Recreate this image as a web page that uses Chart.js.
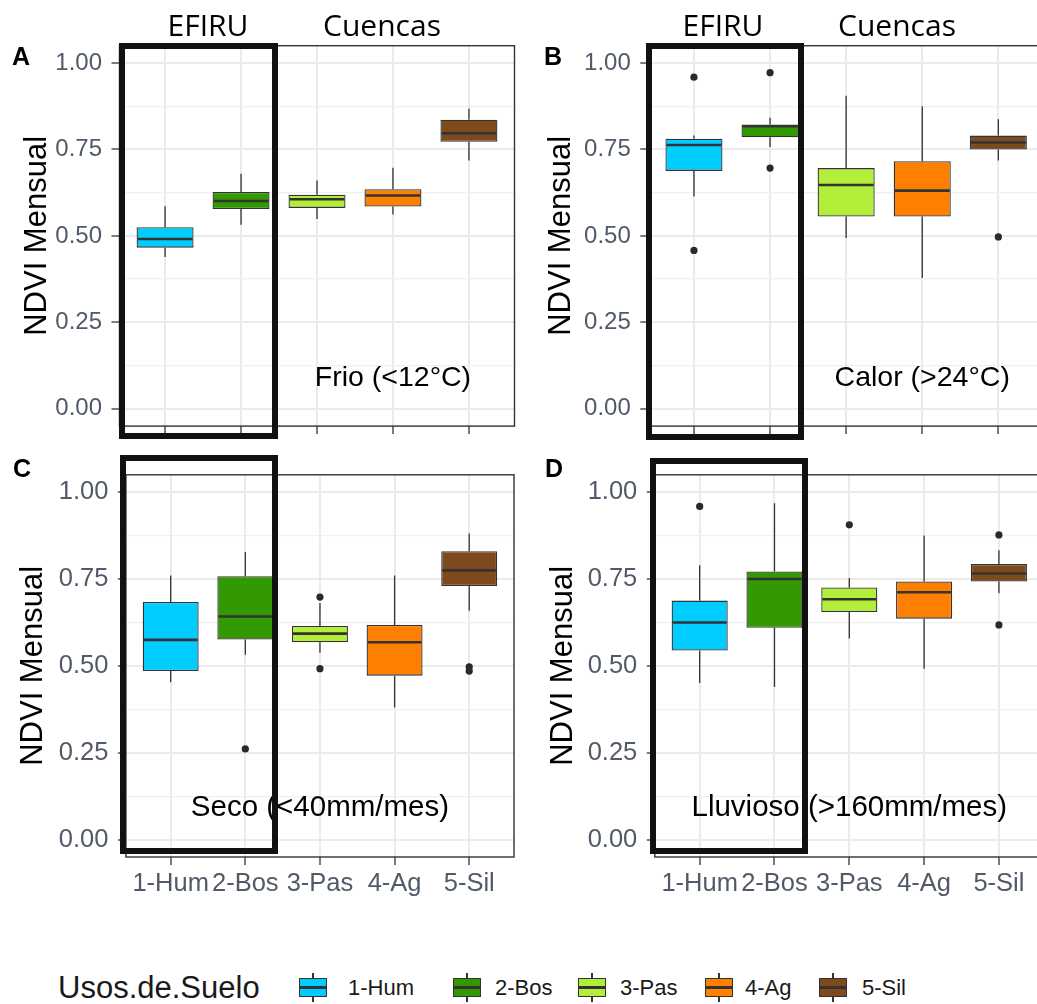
<!DOCTYPE html>
<html>
<head>
<meta charset="utf-8">
<script src="https://cdn.jsdelivr.net/npm/chart.js@4.4.1/dist/chart.umd.min.js"></script>
<style>
html, body { margin: 0; padding: 0; width: 1037px; height: 1004px; overflow: hidden; background: #fff; }
canvas { position: absolute; }
.txt { position: absolute; line-height: 1; white-space: nowrap; transform: translate(-50%, -50%); }
.head { font-family: 'Open Sans', sans-serif; font-size: 30px; color: #000; }
.letter { font-family: 'Liberation Sans', Arial, sans-serif; font-size: 25px; font-weight: bold; color: #000; }
.efiru { position: absolute; border: 6px solid #111; box-sizing: border-box; }
.leg { position: absolute; line-height: 1; white-space: nowrap; transform: translateY(-50%);
       font-family: 'Liberation Sans', Arial, sans-serif; color: #1a1a1a; }
.key { position: absolute; width: 28px; height: 29px; }
.key div { position: absolute; box-sizing: border-box; }
</style>
</head>
<body>
<canvas id="panelA" width="518" height="450" style="left:0px;top:0px"></canvas>
<canvas id="panelB" width="530" height="450" style="left:518px;top:0px"></canvas>
<canvas id="panelC" width="518" height="470" style="left:0px;top:450px"></canvas>
<canvas id="panelD" width="530" height="470" style="left:518px;top:450px"></canvas>

<div class="efiru" style="left:119px;top:43px;width:159px;height:396px"></div>
<div class="efiru" style="left:646px;top:43px;width:158px;height:397px"></div>
<div class="efiru" style="left:120px;top:455px;width:158px;height:399px"></div>
<div class="efiru" style="left:650px;top:458px;width:158px;height:396px"></div>

<div class="txt head" style="left:208px;top:25px">EFIRU</div>
<div class="txt head" style="left:382px;top:25px">Cuencas</div>
<div class="txt head" style="left:723px;top:25px">EFIRU</div>
<div class="txt head" style="left:897px;top:25px">Cuencas</div>

<div class="txt letter" style="left:21px;top:56px">A</div>
<div class="txt letter" style="left:553px;top:56px">B</div>
<div class="txt letter" style="left:22px;top:468px">C</div>
<div class="txt letter" style="left:554px;top:468px">D</div>

<div id="legend"></div>

<script>
const categories = ['1-Hum', '2-Bos', '3-Pas', '4-Ag', '5-Sil'];
const boxColors = ['#00CCFF', '#339900', '#B3EE3A', '#FF8000', '#7F4A1B'];
const yMajorTicks = [0, 0.25, 0.5, 0.75, 1];
const yMinorTicks = [0.125, 0.375, 0.625, 0.875];

// A - Frio (<12°C)
const frioLow  = [0.439, 0.532, 0.549, 0.562, 0.718];
const frioQ1   = [0.466, 0.578, 0.581, 0.585, 0.772];
const frioMed  = [0.491, 0.601, 0.606, 0.617, 0.797];
const frioQ3   = [0.525, 0.627, 0.619, 0.635, 0.836];
const frioHigh = [0.586, 0.680, 0.660, 0.697, 0.868];
const frioOut  = [];

// B - Calor (>24°C)
const calorLow  = [0.614, 0.757, 0.494, 0.378, 0.718];
const calorQ1   = [0.688, 0.785, 0.556, 0.556, 0.750];
const calorMed  = [0.763, 0.817, 0.647, 0.631, 0.770];
const calorQ3   = [0.781, 0.822, 0.696, 0.716, 0.790];
const calorHigh = [0.790, 0.842, 0.905, 0.875, 0.837];
const calorOut  = [[1, 0.959], [1, 0.458], [2, 0.972], [2, 0.696], [5, 0.497]];

// C - Seco (<40mm/mes)
const secoLow  = [0.453, 0.532, 0.538, 0.380, 0.659];
const secoQ1   = [0.485, 0.576, 0.568, 0.472, 0.730];
const secoMed  = [0.575, 0.642, 0.593, 0.568, 0.775];
const secoQ3   = [0.684, 0.758, 0.615, 0.618, 0.830];
const secoHigh = [0.760, 0.828, 0.681, 0.760, 0.881];
const secoOut  = [[2, 0.261], [3, 0.698], [3, 0.492], [5, 0.497], [5, 0.485]];

// D - Lluvioso (>160mm/mes)
const lluvLow  = [0.451, 0.439, 0.579, 0.492, 0.709];
const lluvQ1   = [0.544, 0.610, 0.655, 0.636, 0.743];
const lluvMed  = [0.625, 0.750, 0.692, 0.712, 0.766];
const lluvQ3   = [0.688, 0.772, 0.726, 0.743, 0.793];
const lluvHigh = [0.790, 0.968, 0.753, 0.875, 0.833];
const lluvOut  = [[1, 0.959], [3, 0.906], [5, 0.877], [5, 0.618]];

const FONT = "'Liberation Sans', Arial, sans-serif";
const TICK_COLOR = '#515a68';
const isMajor = v => yMajorTicks.some(m => Math.abs(m - v) < 1e-6);

// whiskers, medians, note text and panel border
const boxPlugin = {
    id: 'boxplot',
    afterDatasetsDraw(chart, args, opts) {
        const { ctx, scales: { x, y } } = chart;
        const bars = chart.getDatasetMeta(0).data;
        const s = opts.stats;
        ctx.save();
        ctx.strokeStyle = '#333333';
        categories.forEach((c, i) => {
            const px = x.getPixelForValue(i + 1);
            const half = bars[i].width / 2;
            ctx.lineWidth = 1.3;
            ctx.beginPath();
            ctx.moveTo(px, y.getPixelForValue(s.high[i]));
            ctx.lineTo(px, y.getPixelForValue(s.q3[i]));
            ctx.moveTo(px, y.getPixelForValue(s.q1[i]));
            ctx.lineTo(px, y.getPixelForValue(s.low[i]));
            ctx.stroke();
            ctx.lineWidth = 2.6;
            ctx.beginPath();
            const my = y.getPixelForValue(s.med[i]);
            ctx.moveTo(px - half + 1, my);
            ctx.lineTo(px + half - 1, my);
            ctx.stroke();
        });
        ctx.fillStyle = '#000';
        ctx.font = opts.noteSize + 'px ' + FONT;
        ctx.textAlign = 'center';
        ctx.textBaseline = 'middle';
        ctx.fillText(opts.note, x.getPixelForValue(opts.noteX), y.getPixelForValue(opts.noteY));
        ctx.restore();
    },
    afterDraw(chart) {
        const { ctx, chartArea: a } = chart;
        ctx.save();
        ctx.strokeStyle = '#333333';
        ctx.lineWidth = 1.4;
        ctx.strokeRect(a.left, a.top, a.right - a.left, a.bottom - a.top);
        ctx.restore();
    }
};

function makePanel(id, s, L) {
    const boxData = categories.map((c, i) => ({ x: i + 1, y: [s.q1[i], s.q3[i]] }));
    const outData = s.out.map(p => ({ x: p[0], y: p[1] }));
    return new Chart(document.getElementById(id), {
        type: 'bar',
        data: {
            datasets: [{
                type: 'bar',
                data: boxData,
                backgroundColor: boxColors,
                borderColor: '#333333',
                borderWidth: 1.3,
                borderSkipped: false,
                barPercentage: 0.75,
                categoryPercentage: 1,
                order: 2
            }, {
                type: 'scatter',
                data: outData,
                pointRadius: 3.6,
                pointBackgroundColor: '#2a2a2a',
                pointBorderWidth: 0,
                order: 1
            }]
        },
        options: {
            responsive: false,
            animation: false,
            events: [],
            layout: { padding: { left: 0, top: L.top, right: L.right, bottom: 0 } },
            plugins: {
                legend: { display: false },
                tooltip: { enabled: false },
                boxplot: { stats: s, note: L.note, noteX: L.noteX, noteY: 0.09, noteSize: L.noteSize }
            },
            scales: {
                x: {
                    type: 'linear',
                    min: 0.4,
                    max: 5.6,
                    offset: false,
                    afterBuildTicks: sc => { sc.ticks = categories.map((c, i) => ({ value: i + 1 })); },
                    afterFit: sc => { sc.height = L.xAxisH; },
                    border: { display: false },
                    grid: { offset: false, color: '#EBEBEB', lineWidth: 2, tickColor: '#333333', tickWidth: 1.3, tickLength: 8 },
                    ticks: {
                        display: L.xLabels,
                        autoSkip: false,
                        maxRotation: 0,
                        padding: 4,
                        color: TICK_COLOR,
                        font: { family: FONT, size: L.tickSize },
                        callback: v => categories[v - 1]
                    }
                },
                y: {
                    min: -0.05,
                    max: 1.05,
                    afterBuildTicks: sc => {
                        sc.ticks = yMajorTicks.concat(yMinorTicks).sort((a, b) => a - b).map(v => ({ value: v }));
                    },
                    afterFit: sc => { sc.width = L.yAxisW; },
                    border: { display: false },
                    grid: {
                        color: c => (c.tick && isMajor(c.tick.value)) ? '#EBEBEB' : '#F0F0F0',
                        lineWidth: c => (c.tick && isMajor(c.tick.value)) ? 2 : 1.3,
                        tickColor: c => (c.tick && isMajor(c.tick.value)) ? '#333333' : 'rgba(0,0,0,0)',
                        tickWidth: 1.3,
                        tickLength: 8
                    },
                    ticks: {
                        autoSkip: false,
                        padding: 9.5,
                        color: TICK_COLOR,
                        font: { family: FONT, size: L.tickSize },
                        callback: v => isMajor(v) ? v.toFixed(2) : ''
                    },
                    title: {
                        display: true,
                        text: 'NDVI Mensual',
                        color: '#000',
                        font: { family: FONT, size: 31 },
                        padding: { top: L.titlePad, bottom: 0 }
                    }
                }
            }
        },
        plugins: [boxPlugin]
    });
}

makePanel('panelA',
    { low: frioLow, q1: frioQ1, med: frioMed, q3: frioQ3, high: frioHigh, out: frioOut },
    { top: 45.7, right: 3.5, yAxisW: 119.5, xAxisH: 16.7, titlePad: 18.4, tickSize: 24, xLabels: false,
      note: 'Frio (<12°C)', noteX: 4, noteSize: 28.5 });
makePanel('panelB',
    { low: calorLow, q1: calorQ1, med: calorMed, q3: calorQ3, high: calorHigh, out: calorOut },
    { top: 45.7, right: 4, yAxisW: 130.3, xAxisH: 16.7, titlePad: 24.9, tickSize: 24, xLabels: false,
      note: 'Calor (>24°C)', noteX: 4, noteSize: 28.5 });
makePanel('panelC',
    { low: secoLow, q1: secoQ1, med: secoMed, q3: secoQ3, high: secoHigh, out: secoOut },
    { top: 7.3, right: 3.9, yAxisW: 125.9, xAxisH: 63, titlePad: 14.4, tickSize: 25.5, xLabels: true,
      note: 'Seco (<40mm/mes)', noteX: 3, noteSize: 29.5 });
makePanel('panelD',
    { low: lluvLow, q1: lluvQ1, med: lluvMed, q3: lluvQ3, high: lluvHigh, out: lluvOut },
    { top: 7.3, right: 4.2, yAxisW: 136.8, xAxisH: 63, titlePad: 26.4, tickSize: 25.5, xLabels: true,
      note: 'Lluvioso (>160mm/mes)', noteX: 3, noteSize: 29.5 });

// legend
const legend = document.getElementById('legend');
const keyLeft = [299, 453, 578, 705, 819];
const labelLeft = [348, 495, 620, 745, 862];
legend.innerHTML = '<div class="leg" style="left:58px;top:987px;font-size:31px">Usos.de.Suelo</div>';
categories.forEach((c, i) => {
    legend.innerHTML +=
        '<div class="key" style="left:' + keyLeft[i] + 'px;top:973px">' +
        '<div style="left:13.4px;top:0;width:1.3px;height:29px;background:#333"></div>' +
        '<div style="left:0;top:5px;width:28px;height:19px;background:' + boxColors[i] + ';border:1.3px solid #333"></div>' +
        '<div style="left:1px;top:13.4px;width:26px;height:2.3px;background:#333"></div>' +
        '</div>' +
        '<div class="leg" style="left:' + labelLeft[i] + 'px;top:988px;font-size:22px">' + c + '</div>';
});
</script>
</body>
</html>
